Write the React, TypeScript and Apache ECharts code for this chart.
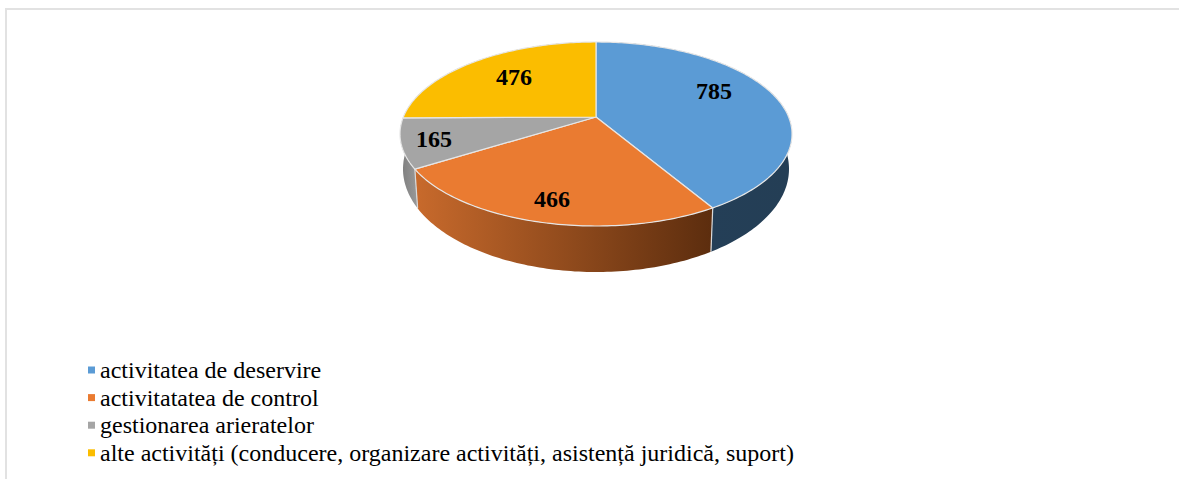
import React, { useEffect, useRef } from "react";
import * as echarts from "echarts";

const categories = [
  "activitatea de deservire",
  "activitatatea de control",
  "gestionarea arieratelor",
  "alte activități (conducere, organizare activități, asistență juridică, suport)",
];
const values = [785, 466, 165, 476];
const topColors = ["#5b9bd5", "#ea7b31", "#a5a5a5", "#fbbd00"];
const wallFrom = ["#24405a", "#c86a2c", "#7d7d7d", "#a67c00"];
const wallTo = ["#243e55", "#5c2d0e", "#999999", "#a67c00"];
const labelCentres = [
  [714, 91],
  [552, 199],
  [434, 139],
  [514, 77],
];

const W = 1179;
const H = 479;
const TOP = { cx: 596, cy: 134, rx: 196, ry: 92 };
const BOTTOM = { cx: 596, cy: 169, rx: 193, ry: 103 };
const APEX_SHIFT = 0.185;
const total = values.reduce((a, b) => a + b, 0);

function project(deg: number, e: typeof TOP, r = 1) {
  const t = (deg * Math.PI) / 180;
  const u = r * Math.sin(t);
  const v = r * Math.cos(t);
  const d = 1 + APEX_SHIFT * v;
  const vp = (v + APEX_SHIFT) / d;
  const up = (u * Math.sqrt(1 - APEX_SHIFT * APEX_SHIFT)) / d;
  return [e.cx + e.rx * up, e.cy - e.ry * vp];
}

function arc(from: number, to: number, e: typeof TOP) {
  const n = Math.max(2, Math.ceil(to - from));
  const pts: number[][] = [];
  for (let i = 0; i <= n; i++) pts.push(project(from + ((to - from) * i) / n, e));
  return pts;
}

function makeRenderItem(index: number) {
  return () => {
    const before = values.slice(0, index).reduce((a, b) => a + b, 0);
    const a0 = (before / total) * 360;
    const a1 = ((before + values[index]) / total) * 360;
    const topArc = arc(a0, a1, TOP);
    const botArc = arc(a0, a1, BOTTOM);
    const wall = [...topArc, ...botArc.slice().reverse()];
    const apex = project(0, TOP, 0);
    const children: any[] = [
      {
        type: "polygon",
        z2: 1,
        shape: { points: wall },
        style: {
          fill: new echarts.graphic.LinearGradient(0, 0, 1, 0, [
            { offset: 0, color: wallFrom[index] },
            { offset: 1, color: wallTo[index] },
          ]),
          stroke: null,
        },
      },
      {
        type: "line",
        z2: 2,
        shape: {
          x1: topArc[0][0],
          y1: topArc[0][1],
          x2: botArc[0][0],
          y2: botArc[0][1],
        },
        style: { stroke: "#d9d9d9", lineWidth: 1.2 },
      },
      {
        type: "polygon",
        z2: 3,
        shape: { points: [apex, ...topArc] },
        style: { fill: topColors[index], stroke: "#e6e6e6", lineWidth: 1.2, lineJoin: "round" },
      },
      {
        type: "text",
        z2: 5,
        style: {
          x: labelCentres[index][0],
          y: labelCentres[index][1],
          text: String(values[index]),
          fill: "#000000",
          font: 'bold 24px "Liberation Serif"',
          align: "center",
          verticalAlign: "middle",
        },
      },
    ];
    return { type: "group", children };
  };
}

export default function App() {
  const ref = useRef<HTMLDivElement>(null);
  useEffect(() => {
    document.body.style.margin = "0";
    document.body.style.background = "#ffffff";
    const chart = echarts.init(ref.current!, null, { renderer: "svg" });
    chart.setOption({
      animation: false,
      backgroundColor: "#ffffff",
      color: topColors,
      legend: {
        orient: "vertical",
        left: 88,
        top: 358,
        padding: 0,
        itemWidth: 7,
        itemHeight: 7,
        itemGap: 3.6,
        icon: "rect",
        selectedMode: false,
        data: categories,
        textStyle: {
          fontFamily: "Liberation Serif",
          fontSize: 24,
          lineHeight: 20,
          color: "#000000",
        },
      },
      graphic: [
        {
          type: "line",
          silent: true,
          shape: { x1: 5, y1: 9, x2: W, y2: 9 },
          style: { stroke: "#e2e2e2", lineWidth: 2 },
        },
        {
          type: "line",
          silent: true,
          shape: { x1: 6, y1: 8, x2: 6, y2: H },
          style: { stroke: "#e2e2e2", lineWidth: 2 },
        },
      ],
      series: categories.map((name, i) => ({
        type: "custom",
        name,
        coordinateSystem: "none",
        silent: true,
        clip: false,
        itemStyle: { color: topColors[i] },
        data: [[values[i]]],
        renderItem: makeRenderItem(i),
      })),
    });
    return () => chart.dispose();
  }, []);
  return <div ref={ref} style={{ width: W, height: H }} />;
}
